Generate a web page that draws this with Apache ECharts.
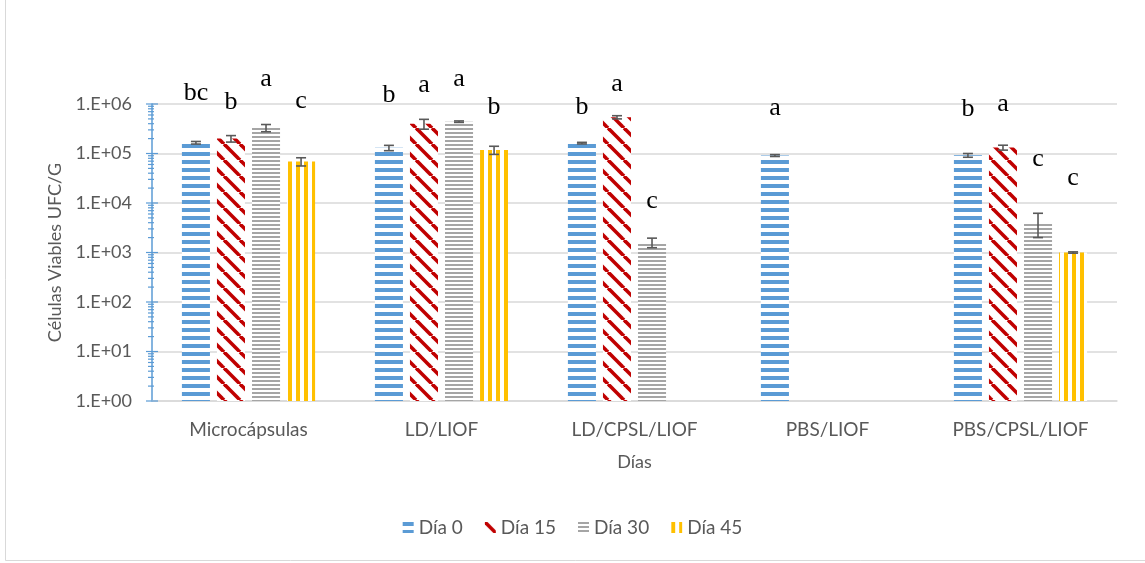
<!DOCTYPE html>
<html>
<head>
<meta charset="utf-8">
<script src="https://cdn.jsdelivr.net/npm/echarts@6/dist/echarts.min.js"></script>
<style>
  html, body { margin: 0; padding: 0; background: #ffffff; }
  #chart { width: 1145px; height: 563px; }
</style>
</head>
<body>
<div id="chart"></div>
<script>
// Groups on the x axis and the four sampling days
const categories = ['Microcápsulas', 'LD/LIOF', 'LD/CPSL/LIOF', 'PBS/LIOF', 'PBS/CPSL/LIOF'];
const seriesNames = ['Día 0', 'Día 15', 'Día 30', 'Día 45'];

// Viable cells (UFC/g) per group, one array per day
const dia0  = [1.65e5, 1.3e5, 1.62e5, 9.1e4, 9.2e4];
const dia15 = [2.0e5, 4.0e5, 5.4e5, null, 1.32e5];
const dia30 = [3.3e5, 4.4e5, 1.6e3, null, 4.1e3];
const dia45 = [6.9e4, 1.18e5, null, null, 1.0e3];

// Standard deviation of each mean
const err0  = [1.0e4, 1.6e4, 6e3, 4e3, 8e3];
const err15 = [3e4, 9e4, 4e4, null, 1.5e4];
const err30 = [5.5e4, 1.5e4, 3.5e2, null, 2.1e3];
const err45 = [1.3e4, 2.2e4, null, null, 3e1];

// Significance letters above each bar
const letters0  = ['bc', 'b', 'b', 'a', 'b'];
const letters15 = ['b', 'a', 'a', '', 'a'];
const letters30 = ['a', 'a', 'c', '', 'c'];
const letters45 = ['c', 'b', '', '', 'c'];

// Y axis tick exponents (10^n)
const yTickExponents = [0, 1, 2, 3, 4, 5, 6];

// Styling: how far (px) each letter's baseline sits above its error-bar cap
const letterLift = [
  [40, 42, 27, 38, 36],
  [25, 26, 24, 0, 33],
  [37, 34, 29, 0, 46],
  [49, 31, 0, 0, 66]
];
const LETTER_DESCENT = 5;

const values = [dia0, dia15, dia30, dia45];
const errors = [err0, err15, err30, err45];
const letters = [letters0, letters15, letters30, letters45];

const BLUE = '#5B9BD5', RED = '#C00000', GRAY = '#A5A5A5', GOLD = '#FFC000';
const TEXT = '#595959', GRID = '#D9D9D9';
const CAT_GAP = 0.31, BAR_GAP = 0.25;

// Pattern fills
function tile(w, h, draw) {
  const c = document.createElement('canvas');
  c.width = w; c.height = h;
  const g = c.getContext('2d');
  g.fillStyle = '#ffffff';
  g.fillRect(0, 0, w, h);
  draw(g);
  return { image: c, repeat: 'repeat' };
}
const patterns = [
  tile(8, 8, g => { g.fillStyle = BLUE; g.fillRect(0, 0, 8, 4); }),
  tile(16, 16, g => {
    g.strokeStyle = RED; g.lineWidth = 3.6;
    [-16, 0, 16].forEach(o => { g.beginPath(); g.moveTo(o, 0); g.lineTo(o + 16, 16); g.stroke(); });
  }),
  tile(4, 4, g => { g.fillStyle = GRAY; g.fillRect(0, 0, 4, 2); }),
  tile(8, 8, g => { g.fillStyle = GOLD; g.fillRect(0, 0, 4, 8); })
];

// Rows for error bars and letters
const markRows = [];
values.forEach((arr, j) => {
  arr.forEach((v, i) => {
    if (v != null) markRows.push({ i, j, v, e: errors[j][i] || 0, lift: letterLift[j][i], letter: letters[j][i] });
  });
});

const chart = echarts.init(document.getElementById('chart'), null, { renderer: 'canvas' });

const barSeries = seriesNames.map((name, j) => ({
  name,
  type: 'bar',
  barCategoryGap: (CAT_GAP * 100) + '%',
  barGap: (BAR_GAP * 100) + '%',
  itemStyle: { color: patterns[j] },
  emphasis: { disabled: true },
  data: values[j].map(v => (v == null ? '-' : v))
}));

const errorSeries = {
  type: 'custom',
  z: 5,
  silent: true,
  clip: false,
  encode: { x: 0, y: 2 },
  data: markRows.map(r => [r.i, r.j, r.v, r.e]),
  renderItem: (params, api) => {
    const r = markRows[params.dataIndex];
    const band = api.size([1, 0])[0];
    const bw = band * (1 - CAT_GAP) / (4 + 3 * BAR_GAP);
    const x = api.coord([r.i, r.v])[0] + (r.j - 1.5) * bw * (1 + BAR_GAP);
    const yTop = api.coord([r.i, r.v + r.e])[1];
    const yBot = api.coord([r.i, Math.max(r.v - r.e, 1e-9)])[1];
    const cap = 5;
    const ls = { stroke: '#595959', lineWidth: 1.6 };
    const children = [
      { type: 'line', shape: { x1: x, y1: yTop, x2: x, y2: yBot }, style: ls },
      { type: 'line', shape: { x1: x - cap, y1: yTop, x2: x + cap, y2: yTop }, style: ls },
      { type: 'line', shape: { x1: x - cap, y1: yBot, x2: x + cap, y2: yBot }, style: ls }
    ];
    if (r.letter) {
      children.push({
        type: 'text',
        style: {
          text: r.letter, x: x, y: yTop - r.lift + LETTER_DESCENT,
          fill: '#000000', font: '26px "Liberation Serif", "Times New Roman", serif',
          align: 'center', verticalAlign: 'bottom',
          textAlign: 'center', textVerticalAlign: 'bottom'
        }
      });
    }
    return { type: 'group', children };
  }
};

// Major and logarithmic minor ticks on the value axis
const tickSeries = {
  type: 'custom',
  z: 6,
  silent: true,
  clip: false,
  encode: { x: 0, y: 1 },
  data: [[0, 1]],
  renderItem: (params, api) => {
    const ax = params.coordSys.x;
    const children = [];
    const st = { stroke: BLUE, lineWidth: 1.2 };
    yTickExponents.forEach(n => {
      const y = api.coord([0, Math.pow(10, n)])[1];
      children.push({ type: 'line', shape: { x1: ax - 6, y1: y, x2: ax + 6, y2: y }, style: st });
      if (n < yTickExponents[yTickExponents.length - 1]) {
        for (let m = 2; m <= 9; m++) {
          const ym = api.coord([0, m * Math.pow(10, n)])[1];
          children.push({ type: 'line', shape: { x1: ax - 4, y1: ym, x2: ax + 2, y2: ym }, style: st });
        }
      }
    });
    return { type: 'group', children };
  }
};

const option = {
  animation: false,
  backgroundColor: '#ffffff',
  textStyle: { fontFamily: 'Lato, "Noto Sans", sans-serif', color: TEXT },
  grid: { left: 152, right: 28, top: 104, bottom: 162 },
  legend: {
    data: seriesNames,
    bottom: 21,
    left: 'center',
    itemWidth: 11,
    itemHeight: 11,
    itemGap: 22,
    icon: 'rect',
    textStyle: { fontSize: 19, color: TEXT, fontFamily: 'Lato, sans-serif', padding: [0, 0, 0, 0] }
  },
  xAxis: {
    type: 'category',
    data: categories,
    axisLine: { show: true, lineStyle: { color: GRID, width: 1.5 } },
    axisTick: { show: false },
    axisLabel: { color: TEXT, fontSize: 19, margin: 19, fontFamily: 'Lato, sans-serif' },
    name: 'Días',
    nameLocation: 'middle',
    nameGap: 52,
    nameTextStyle: { color: TEXT, fontSize: 18, fontFamily: 'Lato, sans-serif' }
  },
  yAxis: {
    type: 'log',
    logBase: 10,
    min: 1,
    max: 1e6,
    splitNumber: 6,
    axisLine: { show: true, lineStyle: { color: BLUE, width: 1.5 } },
    axisTick: { show: false },
    minorTick: { show: false },
    splitLine: { show: true, lineStyle: { color: GRID, width: 1.5 } },
    axisLabel: {
      color: TEXT, fontSize: 18, margin: 20, fontFamily: 'Lato, sans-serif',
      formatter: v => '1.E+' + String(Math.round(Math.log10(v))).padStart(2, '0')
    },
    name: 'Células Viables UFC/G',
    nameLocation: 'middle',
    nameRotate: 90,
    nameGap: 88,
    nameTextStyle: { color: TEXT, fontSize: 18, fontFamily: 'Lato, sans-serif' }
  },
  graphic: [{
    type: 'rect',
    silent: true,
    shape: { x: 5.5, y: -2, width: 1150, height: 562.5 },
    style: { fill: 'none', stroke: GRID, lineWidth: 1 }
  }],
  series: [...barSeries, errorSeries, tickSeries]
};

chart.setOption(option);
</script>
</body>
</html>
